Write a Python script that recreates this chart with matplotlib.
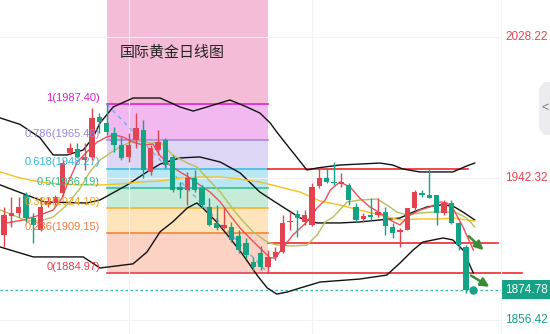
import matplotlib.pyplot as plt
import matplotlib.patches as mpatches

plt.rcParams['font.family'] = ['Liberation Sans', 'DejaVu Sans']

# daily candles (red = up, green = down)
opens = [1908.0, 1919.5, 1921.3, 1932.2, 1918.3, 1911.0, 1926.2, 1927.4, 1933.4, 1957.7,
         1960.1, 1953.4, 1955.3, 1979.5, 1975.9, 1969.8, 1962.5, 1955.3, 1965.6, 1971.6,
         1946.2, 1959.5, 1965.6, 1955.3, 1937.1, 1935.3, 1942.5, 1936.5, 1925.0, 1915.3,
         1912.2, 1912.8, 1907.4, 1903.1, 1891.6, 1897.1, 1888.6, 1894.7, 1897.7, 1915.9,
         1920.7, 1915.9, 1914.1, 1937.7, 1942.5, 1940.1, 1938.9, 1938.3, 1925.0, 1917.7,
         1920.1, 1920.1, 1921.9, 1912.8, 1909.8, 1911.0, 1924.4, 1933.4, 1932.2, 1932.2,
         1921.3, 1927.4, 1915.3, 1900.7, 1875.3]
closes = [1920.1, 1921.3, 1925.0, 1918.3, 1914.1, 1925.0, 1928.0, 1931.0, 1951.6, 1960.7,
          1955.3, 1955.3, 1978.9, 1976.5, 1970.4, 1962.5, 1954.7, 1962.5, 1972.8, 1947.4,
          1960.7, 1964.3, 1950.4, 1935.3, 1935.3, 1942.5, 1935.3, 1926.2, 1914.1, 1912.2,
          1914.1, 1905.0, 1898.9, 1895.9, 1888.6, 1888.6, 1894.7, 1897.7, 1915.3, 1916.5,
          1918.3, 1920.1, 1937.1, 1942.5, 1940.1, 1939.5, 1940.1, 1929.2, 1917.1, 1919.5,
          1918.9, 1921.9, 1913.5, 1909.2, 1911.0, 1924.4, 1934.0, 1932.2, 1930.4, 1921.3,
          1927.4, 1915.3, 1901.9, 1874.7, 1874.78]
highs = [1925.0, 1931.0, 1931.0, 1934.0, 1921.3, 1931.0, 1931.0, 1932.2, 1953.4, 1963.7,
         1963.7, 1963.7, 1985.0, 1981.9, 1987.4, 1973.4, 1967.4, 1969.8, 1981.9, 1977.7,
         1962.5, 1971.6, 1966.8, 1956.5, 1940.1, 1946.2, 1947.4, 1938.3, 1930.4, 1926.2,
         1925.0, 1915.9, 1911.0, 1906.2, 1894.7, 1901.3, 1898.9, 1900.7, 1920.1, 1921.9,
         1923.1, 1923.1, 1939.5, 1948.6, 1948.6, 1952.2, 1945.6, 1939.5, 1927.4, 1921.3,
         1930.4, 1930.4, 1925.0, 1915.3, 1912.2, 1924.4, 1935.3, 1935.3, 1948.6, 1932.2,
         1929.2, 1929.2, 1915.9, 1901.9, 1875.9]
lows = [1900.7, 1912.8, 1918.9, 1915.9, 1903.1, 1910.4, 1925.0, 1926.2, 1931.6, 1956.5,
        1954.7, 1947.4, 1953.4, 1969.8, 1968.6, 1958.3, 1953.4, 1952.2, 1960.7, 1942.5,
        1944.4, 1956.5, 1948.6, 1934.0, 1930.4, 1926.2, 1934.0, 1924.4, 1913.5, 1911.0,
        1911.6, 1903.7, 1897.1, 1894.1, 1886.8, 1886.8, 1884.97, 1892.8, 1897.1, 1911.0,
        1906.8, 1914.1, 1913.5, 1936.5, 1939.5, 1938.3, 1937.1, 1926.2, 1915.9, 1915.9,
        1917.1, 1918.9, 1908.0, 1906.2, 1900.7, 1911.0, 1923.1, 1931.0, 1930.4, 1914.1,
        1920.1, 1914.7, 1898.9, 1872.8, 1873.4]

# indicator lines (bar index, price)
ma5_x = [0.4, 2.6, 4.9, 6.7, 7.9, 8.6, 10, 11.3, 12.7, 14, 15.1, 16.2, 17.6, 19, 20.3,
         21.3, 22.6, 24, 25.4, 26.7, 28.1, 29.5, 30.8, 32.2, 33.5, 34.9, 36.3, 37, 38, 39.4,
         41.3, 42.7, 43.8, 44.5, 45.8, 47.2, 48.5, 49.9, 51.3, 52.6, 54, 55.4, 56.7, 58.1,
         59.5, 60.4, 61.2, 62.6, 64]
ma5 = [1915.3, 1917.1, 1920.1, 1923.1, 1930.4, 1938.3, 1952.2, 1958.3, 1964.3, 1967.4,
       1968.6, 1967.4, 1964.3, 1962.5, 1963.1, 1956.0, 1950.4, 1946.2, 1942.5, 1938.3,
       1934.0, 1928.0, 1920.1, 1912.2, 1906.2, 1900.1, 1894.1, 1894.1, 1900.1, 1908.0,
       1915.9, 1924.4, 1929.2, 1935.3, 1940.1, 1937.1, 1930.4, 1925.0, 1921.3, 1917.1,
       1914.1, 1920.1, 1923.1, 1925.0, 1928.0, 1927.4, 1924.4, 1912.8, 1898.9]
ma10_x = [-0.5, 1.2, 3.1, 4.9, 6.7, 8.6, 10.4, 11.7, 13.1, 14.5, 15.8, 17.2, 18.5, 19.9,
          21.3, 23, 25, 26.3, 27.7, 29.5, 30.8, 32.2, 34, 35.9, 37.2, 39.4, 41.3, 42.7,
          43.8, 44.9, 46.8, 48.5, 50.9, 52.2, 53.6, 55, 56.7, 58.5, 60.4, 61.8, 63.1, 64.2]
ma10 = [1923.1, 1920.1, 1916.5, 1916.5, 1918.9, 1926.2, 1936.5, 1946.2, 1953.4, 1957.7,
        1961.3, 1964.3, 1965.0, 1963.7, 1964.3, 1956.5, 1951.6, 1949.2, 1942.5, 1934.0,
        1926.2, 1918.3, 1909.8, 1903.7, 1901.9, 1901.3, 1901.9, 1908.0, 1915.9, 1918.9,
        1928.0, 1929.2, 1929.8, 1926.2, 1921.9, 1920.1, 1921.3, 1921.9, 1921.9, 1921.3,
        1918.3, 1912.8]
ma30_x = [-0.5, 2.2, 4.9, 7.6, 10.4, 13.1, 15.8, 18.5, 21.3, 24, 26.7, 29.5, 32.2, 34.9,
          37.6, 40.4, 43.1, 45.8, 48.5, 51.3, 54, 56.7, 59.5, 61.2, 64.2]
ma30 = [1946.2, 1942.5, 1940.1, 1938.9, 1938.3, 1938.3, 1938.9, 1940.1, 1940.7, 1942.5,
        1943.1, 1943.1, 1941.9, 1940.1, 1937.1, 1934.0, 1928.6, 1926.2, 1923.1, 1920.1,
        1917.1, 1917.7, 1917.7, 1918.3, 1916.5]
up_x = [-0.5, 2.2, 4.9, 6.7, 8.6, 10.8, 12.1, 13.1, 14.9, 17.6, 21.3, 24, 25.8, 27.7, 30.8,
        33.1, 34.9, 36.3, 37.2, 38.6, 40, 41.3, 42.7, 45.8, 51.3, 53, 54.4, 56.7, 61.2,
        63.1, 64.2]
upper = [1978.9, 1975.0, 1967.0, 1956.5, 1956.5, 1959.5, 1966.8, 1975.9, 1985.6, 1991.0,
         1991.0, 1985.6, 1983.1, 1985.6, 1989.8, 1985.6, 1981.9, 1975.9, 1970.4, 1962.5,
         1954.7, 1947.4, 1948.6, 1950.4, 1951.6, 1950.4, 1948.0, 1946.2, 1946.2, 1949.8,
         1951.6]
mid_x = [-0.5, 3.1, 5.6, 11.3, 13.1, 16.8, 19.5, 21.3, 24, 26.7, 29.5, 32.2, 34.9, 37.6,
         40.4, 42.7, 45.8, 48.5, 51.3, 54, 55.8, 57.7, 59.5, 61.2, 62.6, 64.2]
middle = [1938.3, 1932.2, 1928.0, 1927.4, 1929.2, 1938.3, 1946.2, 1951.0, 1954.7, 1955.3,
          1952.2, 1945.6, 1934.0, 1926.2, 1918.3, 1915.3, 1915.3, 1915.9, 1917.1, 1918.3,
          1921.9, 1925.0, 1926.2, 1925.6, 1921.9, 1917.1]
low_x = [-0.5, 2.2, 4, 10.8, 13.1, 17.6, 19.5, 21.3, 23, 25, 26.3, 27.1, 29, 30.8, 32.6,
         34.5, 35.9, 37.2, 38.6, 40.4, 43.1, 48.5, 52.2, 54, 55.8, 57.1, 59.9, 61.2, 62.6, 64]
lower = [1900.7, 1897.1, 1894.7, 1894.7, 1888.0, 1890.5, 1897.7, 1910.0, 1915.9, 1924.4,
         1927.4, 1924.4, 1915.9, 1906.2, 1895.9, 1883.7, 1875.9, 1872.2, 1873.4, 1875.9,
         1879.5, 1881.3, 1883.7, 1891.0, 1898.9, 1903.7, 1906.2, 1905.0, 1898.9, 1885.0]

# fibonacci retracement (from swing high bar to swing low bar)
fib_start, fib_end = 14, 36
fib_ratios = ['1', '0.786', '0.618', '0.5', '0.382', '0.236', '0']
fib_prices = [1987.40, 1965.48, 1948.27, 1936.19, 1924.10, 1909.15, 1884.97]
fib_line_colors = ['#e020d0', '#a58ae6', '#3fc0e6', '#3dbf94', '#f5b335', '#f5853a', '#e8404d']
fib_text_colors = ['#d81fcb', '#9a86dc', '#2fb6e0', '#35bb8c', '#f2a51f', '#f27a3c', '#e63d4c']
fib_fill_colors = ['#f1b9ef', '#ddd6f5', '#b9e7f4', '#c7ebd9', '#fde4bb', '#fcd2c4']

# support / resistance and price axis
levels = [1948.27, 1903.0, 1884.97]
level_ends = [63.3, 67.4, 70.6]
axis_prices = [2028.22, 1942.32, 1856.42]
axis_colors = ['#e5434f', '#e5434f', '#14a385']
last_price = 1874.78

RED = '#e2434f'
GREEN = '#14a385'

fig = plt.figure(figsize=(5.5, 3.34), dpi=100)
ax = fig.add_axes([0, 0, 501 / 550, 1])
ax.set_xlim(-0.545, 67.78)
ax.set_ylim(1848.0, 2050.4)
for s in ax.spines.values():
    s.set_visible(False)
ax.set_xticks([])
ax.set_yticks([])

# fib box
ax.fill_between([fib_start, fib_end], fib_prices[0], 2060, color='#f5bcd7', lw=0, zorder=0)
for k in range(len(fib_fill_colors)):
    ax.fill_between([fib_start, fib_end], fib_prices[k + 1], fib_prices[k],
                    color=fib_fill_colors[k], lw=0, zorder=0)
for k, p in enumerate(fib_prices):
    ax.plot([fib_start, fib_end], [p, p], color=fib_line_colors[k], lw=1.2, zorder=1)
    ax.text(13.1, p + 0.8, f'{fib_ratios[k]}({p:.2f})', color=fib_text_colors[k],
            fontsize=8, ha='right', va='bottom', zorder=6)
ax.plot([fib_start, fib_end], [fib_prices[0], fib_prices[-1]], color='#7ea7f2',
        lw=1, ls=(0, (3, 3)), zorder=2)

# light grid
for gx in [17, 42]:
    ax.axvline(gx, color='#f2f2f5', lw=0.8, zorder=1)
for gy in axis_prices:
    ax.axhline(gy, color='#f2f2f5', lw=0.8, zorder=0.5)

# bands and averages
ax.plot(up_x, upper, color='#111111', lw=1, zorder=3)
ax.plot(mid_x, middle, color='#111111', lw=1, zorder=3)
ax.plot(low_x, lower, color='#111111', lw=1, zorder=3)
ax.plot(ma30_x, ma30, color='#f7c21c', lw=1, zorder=3)
ax.plot(ma10_x, ma10, color='#b8c058', lw=1, zorder=3)
ax.plot(ma5_x, ma5, color='#ee4f57', lw=1, zorder=3)

# support / resistance lines
for p, end in zip(levels, level_ends):
    ax.plot([fib_end, end], [p, p], color='#f0282e', lw=1.2, zorder=2, clip_on=False)

# candles
n = len(opens)
for i in range(n - 1):
    o, c = opens[i], closes[i]
    col = RED if c >= o else GREEN
    ax.vlines(i, lows[i], highs[i], color=col, lw=1, zorder=4)
    h = max(abs(c - o), 0.7)
    ax.bar(i, h, bottom=min(o, c), width=0.75, color=col, lw=0, zorder=5)
ax.vlines(n - 1, lows[-1], highs[-1], color=GREEN, lw=1, zorder=4)
ax.plot(n - 1, closes[-1], 'o', color=GREEN, ms=5, zorder=5)

# last price line
ax.axhline(last_price, color='#35b8a0', lw=0.9, ls=(0, (2, 2)), zorder=2)

# arrows
arrow_style = dict(arrowstyle='-|>', color='#3b8c35', lw=1.8, mutation_scale=13,
                   shrinkA=0, shrinkB=0)
ax.annotate('', xy=(65.4, 1898.8), xytext=(63.4, 1907.2), arrowprops=arrow_style,
            annotation_clip=False, zorder=7)
ax.annotate('', xy=(66.2, 1876.6), xytext=(63.7, 1883.4), arrowprops=arrow_style,
            annotation_clip=False, zorder=7)

# title
ax.text(15.8, 2019.0, '国际黄金日线图', fontsize=10.8, color='#222222',
        family=['Noto Sans CJK SC', 'DejaVu Sans'], va='center', ha='left', zorder=7)

# price axis labels
ytr = ax.get_yaxis_transform()
for p, col in zip(axis_prices, axis_colors):
    ax.text(1.008, p, f'{p:.2f}', transform=ytr, color=col, fontsize=8.5,
            va='center', ha='left', clip_on=False)
ax.text(1.008, last_price, f'{last_price:.2f}', transform=ytr, color='white', fontsize=8.5,
        va='center', ha='left', clip_on=False,
        bbox=dict(boxstyle='square,pad=0.3', fc=GREEN, ec='none'))
fig.add_artist(plt.Line2D([501 / 550, 501 / 550], [0, 1], color='#f2f2f5', lw=0.8))

# collapse tab on the right edge
W, H = 550, 334
tab = [(550, 82), (544, 82), (539, 89), (539, 128), (544, 135), (550, 135)]
fig.add_artist(mpatches.Polygon([(x / W, 1 - y / H) for x, y in tab], closed=True,
                                fc='#ececf0', ec='none', transform=fig.transFigure))
fig.text(545.5 / W, 1 - 108 / H, '<', color='#777780', fontsize=9, ha='center', va='center')

fig.savefig('out.png', dpi=100, facecolor='white')
